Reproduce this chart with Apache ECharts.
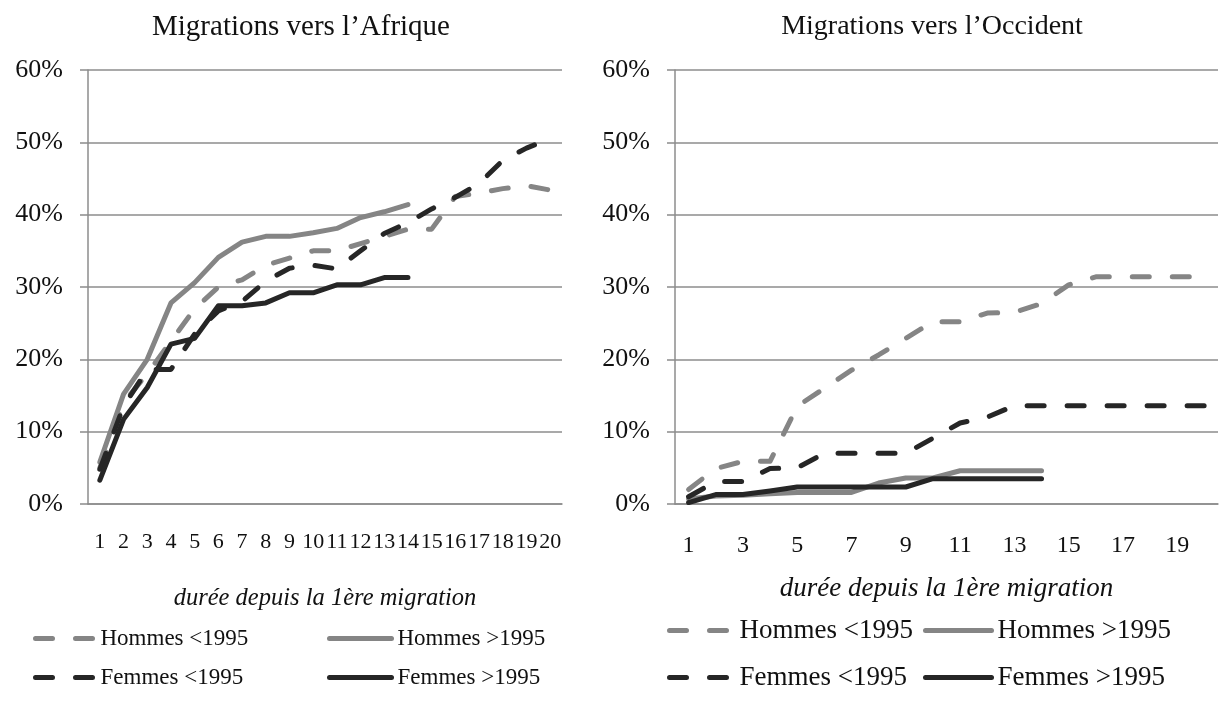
<!DOCTYPE html>
<html>
<head>
<meta charset="utf-8">
<script src="https://cdn.jsdelivr.net/npm/echarts@6/dist/echarts.min.js"></script>
<style>
  html, body { margin: 0; padding: 0; background: #fff; }
  #chart { width: 1221px; height: 716px; }
</style>
</head>
<body>
<div id="chart"></div>
<script>
// durée depuis la 1ère migration (années)
const categories = ['1','2','3','4','5','6','7','8','9','10','11','12','13','14','15','16','17','18','19','20'];
const yTicks = [0, 10, 20, 30, 40, 50, 60];

// Migrations vers l'Afrique (%)
const afriqueHommesAvant = [5, 14, 18, 22.5, 27, 30, 31, 33, 34, 35, 35, 36, 37, 38, 38, 42.5, 43, 43.6, 44, 43.4];
const afriqueHommesApres = [5.8, 15.2, 20, 27.8, 30.6, 34.1, 36.2, 37, 37, 37.5, 38.1, 39.6, 40.4, 41.4];
const afriqueFemmesAvant = [4.8, 13.5, 18.6, 18.6, 23.5, 26.7, 28, 30.8, 32.6, 33, 32.5, 35, 37.4, 38.9, 40.8, 42.4, 44.3, 47.5, 49.2, 50.5];
const afriqueFemmesApres = [3.3, 11.7, 16.1, 22.1, 22.9, 27.4, 27.4, 27.8, 29.2, 29.2, 30.3, 30.3, 31.3, 31.3];

// Migrations vers l'Occident (%)
const occidentHommesAvant = [2.0, 4.9, 5.9, 5.9, 13.5, 16, 18.5, 20.6, 22.9, 25.2, 25.2, 26.4, 26.5, 27.7, 30.3, 31.4, 31.4, 31.4, 31.4, 31.4];
const occidentHommesApres = [0.7, 1.1, 1.2, 1.4, 1.6, 1.6, 1.6, 2.9, 3.6, 3.6, 4.6, 4.6, 4.6, 4.6];
const occidentFemmesAvant = [1.0, 3.1, 3.1, 4.9, 5.0, 7.0, 7.0, 7.0, 7.0, 9.1, 11.2, 12.0, 13.6, 13.6, 13.6, 13.6, 13.6, 13.6, 13.6, 13.6];
const occidentFemmesApres = [0.2, 1.3, 1.3, 1.8, 2.35, 2.35, 2.35, 2.35, 2.35, 3.5, 3.5, 3.5, 3.5, 3.5];

const FONT = 'Liberation Serif';
const GRAY = '#858585';
const DARK = '#262626';
const AXIS = '#8c8c8c';
const DASH = [17, 23];

const chart = echarts.init(document.getElementById('chart'));

const makeX = (gridIndex, labelInterval, nameGap, labelSize, labelMargin, nameSize) => ({
  type: 'category',
  gridIndex,
  data: categories,
  boundaryGap: true,
  name: 'durée depuis la 1ère migration',
  nameLocation: 'middle',
  nameGap,
  nameTextStyle: { fontFamily: FONT, fontStyle: 'italic', fontSize: nameSize, color: '#111' },
  axisLine: { lineStyle: { color: AXIS, width: 1.5 } },
  axisTick: { interval: 0, length: 8, lineStyle: { color: AXIS, width: 1.5 } },
  axisLabel: { interval: labelInterval, margin: labelMargin, fontFamily: FONT, fontSize: labelSize, color: '#111' },
  splitLine: { show: false }
});

const makeY = (gridIndex) => ({
  type: 'value',
  gridIndex,
  min: yTicks[0],
  max: yTicks[yTicks.length - 1],
  interval: 10,
  axisLine: { show: true, lineStyle: { color: AXIS, width: 1.5 } },
  axisTick: { show: true, length: 8, lineStyle: { color: AXIS, width: 1.5 } },
  axisLabel: { formatter: '{value}%', margin: 25, fontFamily: FONT, fontSize: 26, color: '#111' },
  splitLine: { lineStyle: { color: AXIS, width: 1.5 } }
});

const makeSeries = (name, data, color, dashed, idx) => ({
  name,
  type: 'line',
  xAxisIndex: idx,
  yAxisIndex: idx,
  data,
  symbol: 'none',
  smooth: false,
  lineStyle: { color, width: 5, type: dashed ? DASH : 'solid', cap: 'round', join: 'round' },
  itemStyle: { color },
  emphasis: { disabled: true }
});

const legendBase = (names, left, top, gap, iconWidth, pad, size) => ({
  data: names,
  orient: 'vertical',
  left,
  top,
  itemWidth: iconWidth,
  itemHeight: 14,
  itemGap: gap,
  selectedMode: false,
  itemStyle: { opacity: 0 },
  lineStyle: { width: 5, cap: 'round' },
  textStyle: { fontFamily: FONT, fontSize: size, color: '#111', padding: [0, 0, 0, pad] }
});

chart.setOption({
  animation: false,
  title: [
    { text: 'Migrations vers l\u2019Afrique', left: 296, top: 8, textAlign: 'center',
      textStyle: { fontFamily: FONT, fontSize: 29, fontWeight: 'normal', color: '#111' } },
    { text: 'Migrations vers l\u2019Occident', left: 927, top: 8, textAlign: 'center',
      textStyle: { fontFamily: FONT, fontSize: 28, fontWeight: 'normal', color: '#111' } }
  ],
  grid: [
    { left: 88, top: 70, width: 474, height: 434 },
    { left: 675, top: 70, width: 543, height: 434 }
  ],
  xAxis: [makeX(0, 0, 82, 22, 27, 24.5), makeX(1, 1, 71, 24, 30, 27)],
  yAxis: [makeY(0), makeY(1)],
  legend: [
    legendBase(['Hommes <1995', 'Femmes <1995'], 28, 622, 16, 60, 0, 23),
    legendBase(['Hommes >1995', 'Femmes >1995'], 322, 622, 16, 62, 1, 23),
    legendBase(['Hommes <1995', 'Femmes <1995'], 662, 612, 20, 58, 7, 27),
    legendBase(['Hommes >1995', 'Femmes >1995'], 918, 612, 20, 66, 1, 27)
  ],
  series: [
    makeSeries('Hommes <1995', afriqueHommesAvant, GRAY, true, 0),
    makeSeries('Hommes >1995', afriqueHommesApres, GRAY, false, 0),
    makeSeries('Femmes <1995', afriqueFemmesAvant, DARK, true, 0),
    makeSeries('Femmes >1995', afriqueFemmesApres, DARK, false, 0),
    makeSeries('Hommes <1995', occidentHommesAvant, GRAY, true, 1),
    makeSeries('Hommes >1995', occidentHommesApres, GRAY, false, 1),
    makeSeries('Femmes <1995', occidentFemmesAvant, DARK, true, 1),
    makeSeries('Femmes >1995', occidentFemmesApres, DARK, false, 1)
  ]
});

window.addEventListener('resize', () => chart.resize());
</script>
</body>
</html>
